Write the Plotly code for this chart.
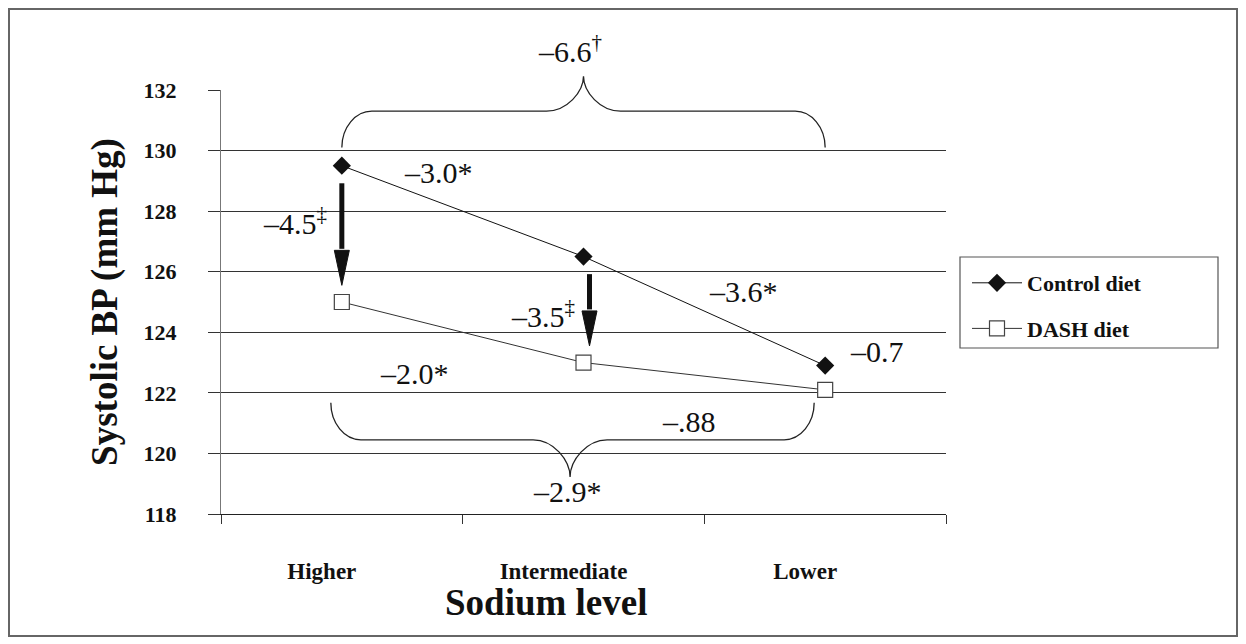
import plotly.graph_objects as go

# ---------------- data ----------------
sodium_levels = ["Higher", "Intermediate", "Lower"]
control_bp = [129.5, 126.5, 122.9]
dash_bp = [125.0, 123.0, 122.1]
y_ticks = [118, 120, 122, 124, 126, 128, 130, 132]

# difference labels
lbl_control_total = "–6.6<sup>†</sup>"
lbl_control_steps = ["–3.0*", "–3.6*"]
lbl_diet_diffs = ["–4.5<sup>‡</sup>", "–3.5<sup>‡</sup>", "–0.7"]
lbl_dash_steps = ["–2.0*", "–.88"]
lbl_dash_total = "–2.9*"

# ---------------- layout geometry (pixels) ----------------
W, H = 1246, 644
L, R, T, B = 221, 946, 90, 514          # plot area edges in px
PW, PH = R - L, B - T
CAT_PX = PW / 3.0                       # px per category
VAL_PX = PH / (y_ticks[-1] - y_ticks[0])  # px per mm Hg

def px2x(px):
    return (px - L) / PW

def py2y(py):
    return (B - py) / PH

# data -> paper (used for shapes that must not be clipped to the plot area)
def cx(cat_pos):
    return (cat_pos + 0.5) / len(sodium_levels)

def vy(v):
    return (v - y_ticks[0]) / (y_ticks[-1] - y_ticks[0])

SERIF = "Liberation Serif"

fig = go.Figure()

fig.add_trace(go.Scatter(
    x=sodium_levels, y=control_bp, name="Control diet", mode="lines+markers",
    line=dict(color="#111111", width=1),
    marker=dict(symbol="diamond", size=14, color="#111111", line=dict(width=0)),
    legendgroup="c",
))
fig.add_trace(go.Scatter(
    x=sodium_levels, y=dash_bp, name="DASH diet", mode="lines+markers",
    line=dict(color="#333333", width=1),
    marker=dict(symbol="square", size=15, color="white", line=dict(color="#444444", width=1.2)),
    legendgroup="d",
))

shapes = []

# ---- thick arrows from control to DASH at higher / intermediate ----
head_len = 35 / VAL_PX
head_half = 7.5 / CAT_PX
arrow_xoff = [0.0, 6 / CAT_PX]
for i in range(2):
    x = i + arrow_xoff[i]
    y0 = control_bp[i] - 0.58
    tip = dash_bp[i] + 0.55
    base = tip + head_len
    shapes.append(dict(type="line", xref="x", yref="y", x0=x, x1=x, y0=y0, y1=base + 0.05,
                       line=dict(color="#111111", width=5)))
    shapes.append(dict(type="path", xref="x", yref="y",
                       path=f"M{x - head_half},{base} L{x + head_half},{base} L{x},{tip} Z",
                       fillcolor="#111111", line=dict(color="#111111", width=1)))

# ---- curly braces (paper coordinates, so the tip is not clipped) ----
def brace(x0, x1, xc, y_end, y_mid, y_tip, r, w, k=0.55):
    X = cx
    Y = vy
    p = []
    p.append(f"M{X(x0)},{Y(y_end)}")
    p.append(f"C{X(x0)},{Y(y_end + k*(y_mid - y_end))} {X(x0 + r - k*r)},{Y(y_mid)} {X(x0 + r)},{Y(y_mid)}")
    p.append(f"L{X(xc - w)},{Y(y_mid)}")
    p.append(f"C{X(xc - w + k*w)},{Y(y_mid)} {X(xc)},{Y(y_mid + k*(y_tip - y_mid))} {X(xc)},{Y(y_tip)}")
    p.append(f"C{X(xc)},{Y(y_mid + k*(y_tip - y_mid))} {X(xc + w - k*w)},{Y(y_mid)} {X(xc + w)},{Y(y_mid)}")
    p.append(f"L{X(x1 - r)},{Y(y_mid)}")
    p.append(f"C{X(x1 - r + k*r)},{Y(y_mid)} {X(x1)},{Y(y_end + k*(y_mid - y_end))} {X(x1)},{Y(y_end)}")
    return " ".join(p)

r_c = 30 / CAT_PX
w_c = 37 / CAT_PX
# top brace over control diet (Higher -> Lower)
shapes.append(dict(type="path", xref="paper", yref="paper",
                   path=brace(0, 2, 1, 130.1, 131.3, 132.45, r_c, w_c),
                   line=dict(color="#222222", width=1.3)))
# bottom brace under DASH diet
bx = -11 / CAT_PX
shapes.append(dict(type="path", xref="paper", yref="paper",
                   path=brace(0 + bx, 2 + bx, 1 + bx - 0.01, 121.67, 120.45, 119.22, r_c, w_c),
                   line=dict(color="#222222", width=1.3)))

# legend frame
shapes.append(dict(type="rect", xref="paper", yref="paper",
                   x0=px2x(960), x1=px2x(1218), y0=py2y(348), y1=py2y(257),
                   line=dict(color="#555555", width=1.2), fillcolor="rgba(0,0,0,0)"))
# outer figure frame
shapes.append(dict(type="rect", xref="paper", yref="paper",
                   x0=px2x(9), x1=px2x(1237), y0=py2y(636), y1=py2y(9),
                   line=dict(color="#666666", width=2), fillcolor="rgba(0,0,0,0)"))

# ---------------- annotations ----------------
ann_font = dict(family=SERIF, size=30, color="#111111")
labels = [
    (lbl_control_total, 570, 49),
    (lbl_control_steps[0], 438, 172),
    (lbl_control_steps[1], 743, 291),
    (lbl_diet_diffs[0], 295, 221),
    (lbl_diet_diffs[1], 543, 314),
    (lbl_diet_diffs[2], 877, 351),
    (lbl_dash_steps[0], 414, 373),
    (lbl_dash_steps[1], 689, 421),
    (lbl_dash_total, 567, 491),
]
annotations = []
for text, px, py in labels:
    annotations.append(dict(text=text, x=px2x(px), y=py2y(py), xref="paper", yref="paper",
                            showarrow=False, font=ann_font,
                            xanchor="center", yanchor="middle"))

# x-axis title (offset to the left as in the reference)
annotations.append(dict(text="Sodium level", x=px2x(546), y=py2y(602), xref="paper", yref="paper",
                        showarrow=False, xanchor="center", yanchor="middle",
                        font=dict(family=SERIF, size=37, color="#111111", weight="bold")))

fig.update_layout(
    width=W, height=H,
    margin=dict(l=L, r=W - R, t=T, b=H - B),
    paper_bgcolor="white", plot_bgcolor="white",
    shapes=shapes, annotations=annotations,
    showlegend=True,
    legend=dict(x=px2x(967), y=py2y(262), xanchor="left", yanchor="top",
                font=dict(family=SERIF, size=22, color="#111111", weight="bold"),
                bgcolor="rgba(0,0,0,0)", borderwidth=0,
                tracegroupgap=14, itemwidth=50),
    xaxis=dict(
        type="category", categoryorder="array", categoryarray=sodium_levels,
        range=[-0.5, 2.5], tickson="boundaries",
        ticks="outside", ticklen=9, tickcolor="#333333", tickwidth=1,
        showline=True, linecolor="#222222", linewidth=1,
        showgrid=False, zeroline=False,
        tickfont=dict(family=SERIF, size=23, color="#111111", weight="bold"),
        ticklabelshift=-20, ticklabelstandoff=36,
    ),
    yaxis=dict(
        range=[y_ticks[0], y_ticks[-1]], tickvals=y_ticks,
        ticks="outside", ticklen=12, tickcolor="#333333", tickwidth=1,
        showgrid=True, gridcolor="#333333", gridwidth=1,
        showline=True, linecolor="#777777", linewidth=1,
        zeroline=False,
        tickfont=dict(family=SERIF, size=22, color="#111111", weight="bold"),
        ticklabelstandoff=27,
        title=dict(text="Systolic BP (mm Hg)", standoff=14,
                   font=dict(family=SERIF, size=37, color="#111111", weight="bold")),
    ),
)

fig.write_html("out.html")
